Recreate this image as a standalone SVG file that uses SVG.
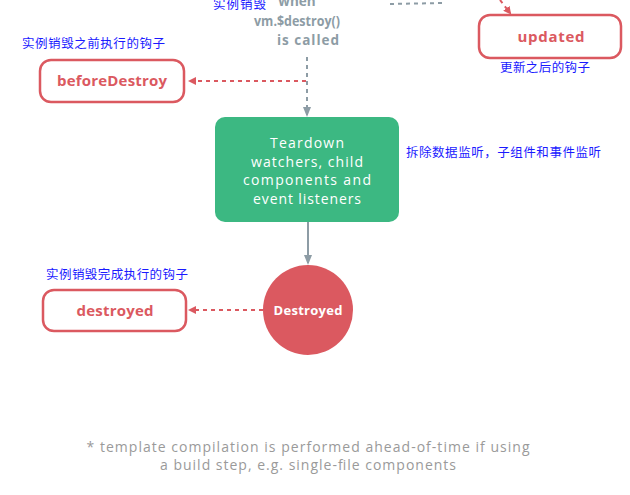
<svg xmlns="http://www.w3.org/2000/svg" width="630" height="495" viewBox="0 0 630 495">
<defs>
<style>
.hook{fill:#fff;stroke:#db5960;stroke-width:2.5}
.hooktxt{font-family:"Open Sans","Liberation Sans",sans-serif;font-weight:bold;font-size:15px;fill:#db5960;text-anchor:middle}
.cn{font-family:"Noto Sans CJK SC",sans-serif;font-size:12.5px;fill:#1a1aff}
.gray{font-family:"Open Sans","Liberation Sans",sans-serif;font-weight:bold;font-size:13.5px;fill:#8d9ca5;text-anchor:middle}
.wt{font-family:"Open Sans","Liberation Sans",sans-serif;font-size:14px;fill:#fff;text-anchor:middle}
.note{font-family:"Open Sans","Liberation Sans",sans-serif;font-size:14px;fill:#9a9a9a;text-anchor:middle}
.reddash{stroke:#db5960;stroke-width:2;stroke-dasharray:4 4;fill:none}
.graydash{stroke:#8d9ca5;stroke-width:2;stroke-dasharray:4 4;fill:none}
</style>
<marker id="ar" markerWidth="8" markerHeight="8" refX="6" refY="4" orient="auto" markerUnits="userSpaceOnUse"><path d="M0,0 L8,4 L0,8 z" fill="#db5960"/></marker>
<marker id="ag" markerWidth="10" markerHeight="8" refX="8" refY="4" orient="auto" markerUnits="userSpaceOnUse"><path d="M0,0 L10,4 L0,8 z" fill="#8d9ca5"/></marker>
</defs>
<g id="connectors">
<path class="graydash" d="M390,4 L442,3"/>
<path class="reddash" d="M500,0 L510,13" marker-end="url(#ar)"/>
<path class="graydash" d="M307,57 L307,115" marker-end="url(#ag)"/>
<path class="reddash" d="M306,81 L190,81" marker-end="url(#ar)"/>
<path stroke="#8d9ca5" stroke-width="2" fill="none" d="M308,222 L308,263" marker-end="url(#ag)"/>
<path class="reddash" d="M263,310 L190,310" marker-end="url(#ar)"/>
</g>
<g id="destroy-call">
<text class="cn" x="213" y="9" textLength="53">实例销毁</text>
<text class="gray" x="297" y="6">when</text>
<text class="gray" x="297" y="26" textLength="86" lengthAdjust="spacingAndGlyphs">vm.$destroy()</text>
<text class="gray" x="308" y="45" textLength="62">is called</text>
</g>
<g id="updated">
<rect class="hook" x="479" y="15" width="142" height="43" rx="11"/>
<text class="hooktxt" x="551" y="42" textLength="67">updated</text>
<text class="cn" x="500" y="72" textLength="90">更新之后的钩子</text>
</g>
<g id="beforeDestroy">
<text class="cn" x="22" y="48" textLength="143">实例销毁之前执行的钩子</text>
<rect class="hook" x="40" y="60" width="144" height="42" rx="11"/>
<text class="hooktxt" x="112" y="86" textLength="110">beforeDestroy</text>
</g>
<g id="teardown">
<rect x="215" y="117" width="184" height="105" rx="10" fill="#3cb882"/>
<text class="wt" x="307" y="148" textLength="74">Teardown</text>
<text class="wt" x="307" y="166.5" textLength="112">watchers, child</text>
<text class="wt" x="307" y="185" textLength="128">components and</text>
<text class="wt" x="307" y="203.5" textLength="108">event listeners</text>
<text class="cn" x="406" y="157" textLength="195">拆除数据监听，子组件和事件监听</text>
</g>
<g id="destroyedState">
<circle cx="308" cy="310" r="45" fill="#db5960"/>
<text x="308" y="315" font-family="Open Sans, Liberation Sans, sans-serif" font-weight="bold" font-size="13" fill="#fff" text-anchor="middle" textLength="69">Destroyed</text>
</g>
<g id="destroyed">
<text class="cn" x="46" y="279" textLength="142">实例销毁完成执行的钩子</text>
<rect class="hook" x="43" y="290" width="143" height="41" rx="11"/>
<text class="hooktxt" x="115" y="316" textLength="77">destroyed</text>
</g>
<g id="footnote">
<text class="note" x="308" y="452" textLength="443">* template compilation is performed ahead-of-time if using</text>
<text class="note" x="308" y="470" textLength="296">a build step, e.g. single-file components</text>
</g>
</svg>
